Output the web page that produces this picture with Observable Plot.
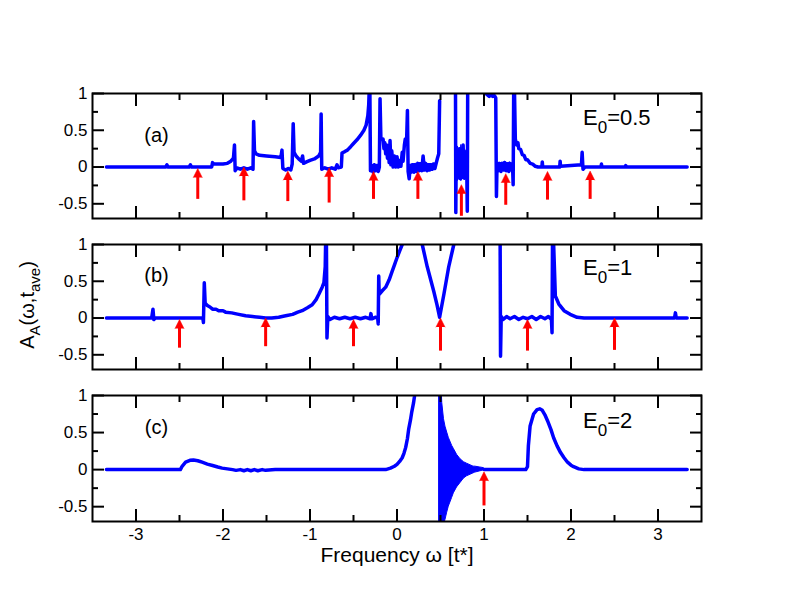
<!DOCTYPE html>
<html><head><meta charset="utf-8">
<script src="https://cdn.jsdelivr.net/npm/d3@7"></script>
<script src="https://cdn.jsdelivr.net/npm/@observablehq/plot@0.6"></script>
<style>
body{margin:0;background:#fff;}
#chart{position:relative;width:792px;height:612px;font-family:"Liberation Sans",Arial,sans-serif;color:#000;overflow:hidden;}
#chart svg{position:absolute;left:0;}
.lbl{position:absolute;line-height:1;white-space:nowrap;}
.lbl sub{line-height:0;}
</style></head><body><div id="chart"></div>
<script>
// ---------- data ----------
const xTicksMajor = [-3,-2,-1,0,1,2,3];
const xTicksMinor = [-2.5,-1.5,-0.5,0.5,1.5,2.5];
const yTicksMajor = [-0.5,0,0.5,1];
const yTicksMinor = [-0.25,0.25,0.75];
const panelLabels = ["(a)","(b)","(c)"];
const fieldValues = ["0.5","1","2"];
const xLabel = "Frequency ω [t*]";

// panel (a), E0 = 0.5 : [omega, A]
const curveA = [[-3.34,0],[-2.66,0],[-2.645,0.03],[-2.63,0],[-2.39,0],[-2.375,0.03],[-2.36,0],[-2.13,0],[-2.12,0.06],[-2.105,0.04],[-2.0,0.04],[-1.95,0.05],[-1.91,0.08],[-1.88,0.12],[-1.868,0.30],[-1.86,-0.05],[-1.84,-0.01],[-1.80,-0.03],[-1.76,-0.01],[-1.72,-0.03],[-1.68,-0.01],[-1.655,-0.03],[-1.648,0.62],[-1.638,0.22],[-1.62,0.18],[-1.58,0.16],[-1.50,0.15],[-1.40,0.14],[-1.335,0.13],[-1.322,0.23],[-1.312,-0.02],[-1.28,-0.04],[-1.25,-0.02],[-1.22,-0.04],[-1.205,0.04],[-1.193,0.59],[-1.183,0.20],[-1.16,0.15],[-1.13,0.11],[-1.10,0.08],[-1.085,0.15],[-1.075,0.05],[-1.04,0.07],[-1.0,0.09],[-0.95,0.11],[-0.90,0.15],[-0.878,0.20],[-0.872,0.72],[-0.865,-0.03],[-0.83,-0.01],[-0.79,-0.03],[-0.75,-0.01],[-0.71,-0.03],[-0.69,0.03],[-0.675,-0.01],[-0.64,0.0],[-0.632,0.19],[-0.60,0.21],[-0.57,0.23],[-0.53,0.28],[-0.50,0.32],[-0.46,0.37],[-0.42,0.43],[-0.38,0.50],[-0.355,0.57],[-0.335,0.70],[-0.325,0.85],[-0.318,1.1],[-0.312,1.1],[-0.305,-0.05],[-0.29,0.02],[-0.275,-0.07],[-0.26,0.03],[-0.245,-0.05],[-0.23,0.02],[-0.215,-0.06],[-0.203,0.0],[-0.195,0.93],[-0.185,0.38],[-0.16,0.38],[-0.15,0.25],[-0.14,0.33],[-0.13,0.18],[-0.12,0.30],[-0.11,0.12],[-0.10,0.26],[-0.09,0.06],[-0.08,0.36],[-0.07,0.03],[-0.06,0.22],[-0.045,0.0],[-0.03,0.15],[-0.015,0.0],[0.0,0.14],[0.015,0.0],[0.03,0.09],[0.045,0.01],[0.06,0.2],[0.07,0.08],[0.085,0.3],[0.095,0.38],[0.11,0.34],[0.12,0.77],[0.128,-0.06],[0.14,-0.16],[0.15,-0.02],[0.165,-0.07],[0.18,0.03],[0.195,-0.07],[0.21,0.02],[0.225,-0.06],[0.24,0.05],[0.255,-0.05],[0.27,0.04],[0.285,-0.05],[0.30,0.15],[0.315,-0.04],[0.33,0.05],[0.345,-0.05],[0.36,0.03],[0.375,-0.04],[0.39,0.03],[0.405,-0.03],[0.42,0.04],[0.435,-0.02],[0.45,0.05],[0.465,0.12],[0.48,0.18],[0.49,0.9],[0.55,NaN],[0.672,1.2],[0.676,-0.62],[0.68,0.1],[0.69,-0.15],[0.70,0.2],[0.71,-0.12],[0.72,0.25],[0.73,-0.16],[0.74,0.18],[0.75,-0.1],[0.76,0.3],[0.77,-0.15],[0.78,0.2],[0.79,-0.12],[0.80,0.15],[0.808,-0.6],[0.813,1.2],[0.9,NaN],[1.02,1.0],[1.04,0.98],[1.06,0.96],[1.08,0.98],[1.10,0.96],[1.12,0.97],[1.135,0.94],[1.143,-0.40],[1.15,0.05],[1.165,-0.05],[1.18,0.04],[1.195,-0.06],[1.21,0.05],[1.225,-0.04],[1.24,0.06],[1.255,-0.05],[1.27,0.04],[1.285,-0.06],[1.30,0.05],[1.315,-0.04],[1.328,0.03],[1.335,-0.24],[1.342,1.2],[1.348,1.2],[1.36,0.38],[1.375,0.30],[1.39,0.33],[1.40,0.25],[1.42,0.24],[1.44,0.17],[1.46,0.16],[1.48,0.10],[1.50,0.10],[1.53,0.05],[1.56,0.04],[1.59,0.01],[1.62,0.0],[1.665,0.0],[1.67,0.07],[1.675,0.0],[1.87,0.0],[1.875,0.08],[1.88,0.01],[2.12,0.03],[2.128,0.2],[2.138,-0.03],[2.16,0.0],[2.345,0.0],[2.35,0.04],[2.355,0.0],[2.625,0.0],[2.63,0.02],[2.635,0.0],[3.335,0.0]];
// dense oscillation bands in (a): [omega, low, high]
const bandA = [[0.68,-0.18,0.24],[0.69,-0.15,0.20],[0.70,-0.19,0.28],[0.71,-0.14,0.22],[0.72,-0.18,0.26],[0.73,-0.16,0.20],[0.74,-0.19,0.30],[0.75,-0.14,0.22],[0.76,-0.17,0.25],[0.77,-0.15,0.21],[0.78,-0.18,0.24],[0.79,-0.14,0.20],[0.80,-0.17,0.23],[0.806,-0.15,0.2],[0.9,NaN,NaN],[1.15,-0.05,0.05],[1.18,-0.06,0.06],[1.21,-0.04,0.05],[1.24,-0.06,0.07],[1.27,-0.05,0.05],[1.30,-0.06,0.06],[1.33,-0.05,0.04],[1.34,NaN,NaN],[0.15,-0.06,0.03],[0.20,-0.07,0.04],[0.25,-0.06,0.05],[0.30,-0.06,0.06],[0.35,-0.05,0.04],[0.40,-0.04,0.04],[0.45,-0.03,0.05]];
const arrowAX = [-2.29,-1.76,-1.255,-0.78,-0.27,0.24,0.74,1.25,1.73,2.22];
const arrowATip = [-0.02,0,-0.055,-0.01,-0.06,-0.06,-0.24,-0.09,-0.06,-0.055];
const arrowATail = [-0.44,-0.46,-0.47,-0.49,-0.44,-0.44,-0.67,-0.52,-0.45,-0.44];

// panel (b), E0 = 1
const curveB = [[-3.34,0],[-2.82,0],[-2.805,0.12],[-2.795,-0.02],[-2.78,0],[-2.232,0],[-2.225,-0.06],[-2.215,0.48],[-2.205,0.2],[-2.18,0.17],[-2.15,0.15],[-2.12,0.12],[-2.08,0.12],[-2.05,0.1],[-2.0,0.1],[-1.97,0.08],[-1.90,0.07],[-1.82,0.05],[-1.74,0.03],[-1.66,0.02],[-1.58,0.01],[-1.51,0.0],[-1.44,0.0],[-1.36,0.01],[-1.28,0.03],[-1.20,0.05],[-1.14,0.08],[-1.09,0.1],[-1.03,0.14],[-0.975,0.18],[-0.93,0.25],[-0.90,0.32],[-0.86,0.42],[-0.84,0.48],[-0.825,0.7],[-0.818,1.2],[-0.812,1.2],[-0.805,-0.27],[-0.795,0.02],[-0.77,-0.02],[-0.72,0.01],[-0.66,-0.01],[-0.60,0.01],[-0.54,-0.01],[-0.48,0.01],[-0.42,-0.01],[-0.36,0.01],[-0.31,-0.01],[-0.30,0.06],[-0.29,-0.01],[-0.25,0.01],[-0.222,0.0],[-0.216,-0.08],[-0.21,0.57],[-0.205,0.32],[-0.17,0.37],[-0.13,0.42],[-0.09,0.52],[-0.06,0.62],[-0.03,0.72],[0.0,0.82],[0.03,0.91],[0.06,1.0],[0.1,1.15],[0.2,NaN],[0.27,1.15],[0.29,1.0],[0.347,0.70],[0.423,0.36],[0.46,0.18],[0.49,0.01],[0.54,0.33],[0.595,0.70],[0.653,1.0],[0.67,1.15],[0.9,NaN],[1.185,1.2],[1.19,-0.52],[1.198,0.02],[1.22,-0.02],[1.26,0.02],[1.30,-0.01],[1.35,0.02],[1.40,-0.02],[1.45,0.01],[1.50,-0.01],[1.55,0.02],[1.60,-0.02],[1.65,0.02],[1.70,-0.01],[1.74,0.02],[1.775,-0.02],[1.782,-0.2],[1.788,1.2],[1.795,1.2],[1.82,0.30],[1.86,0.19],[1.92,0.10],[1.99,0.05],[2.07,0.01],[2.15,0],[3.19,0],[3.20,0.07],[3.21,0],[3.335,0]];
const bandB = [];
const arrowBX = [-2.5,-1.51,-0.50,0.5,1.5,2.5];
const arrowBTip = [-0.02,0,-0.02,0,-0.02,0];
const arrowBTail = [-0.41,-0.39,-0.39,-0.45,-0.45,-0.44];

// panel (c), E0 = 2
const curveC = [[-3.34,0],[-2.49,0],[-2.47,0.045],[-2.43,0.10],[-2.38,0.125],[-2.34,0.13],[-2.29,0.12],[-2.24,0.10],[-2.18,0.075],[-2.12,0.055],[-2.06,0.035],[-2.01,0.02],[-1.95,0.01],[-1.89,0.0],[-1.85,-0.01],[-1.80,0.0],[-1.76,-0.015],[-1.72,0.0],[-1.68,-0.015],[-1.64,0.0],[-1.60,-0.015],[-1.55,0.0],[-1.51,-0.01],[-1.40,0.0],[-1.0,0.0],[-0.5,0],[-0.13,0.0],[-0.075,0.02],[-0.03,0.045],[0.0,0.07],[0.03,0.11],[0.06,0.16],[0.08,0.22],[0.10,0.30],[0.12,0.42],[0.135,0.55],[0.155,0.67],[0.17,0.78],[0.19,0.9],[0.20,0.98],[0.21,1.15],[0.3,NaN],[1.0,0.0],[1.2,0],[1.48,0],[1.50,0.04],[1.51,0.32],[1.53,0.59],[1.57,0.75],[1.61,0.81],[1.64,0.82],[1.67,0.80],[1.70,0.74],[1.73,0.66],[1.77,0.54],[1.80,0.43],[1.84,0.32],[1.88,0.23],[1.92,0.16],[1.96,0.10],[2.0,0.06],[2.03,0.04],[2.09,0.01],[2.15,0],[3.335,0]];
const bandC = [[0.488,-0.9,1.5],[0.50,-0.9,1.5],[0.52,-0.85,0.9],[0.54,-0.75,0.68],[0.557,-0.68,0.58],[0.577,-0.58,0.50],[0.595,-0.50,0.43],[0.634,-0.38,0.32],[0.653,-0.32,0.28],[0.69,-0.24,0.20],[0.73,-0.18,0.14],[0.77,-0.12,0.10],[0.805,-0.09,0.08],[0.88,-0.05,0.04],[0.90,-0.04,0.04],[0.95,-0.025,0.03],[1.0,-0.01,0.02]];
const arrowCX = [1.0];
const arrowCTip = [-0.03];
const arrowCTail = [-0.49];

// ---------- drawing ----------
const BLUE = "#0000ff", RED = "#ff0000";
const chart = document.getElementById("chart");

function panel({curve, band, ax, atip, atail, label, labelDy, top, marginTop, innerH, marginBottom, last}) {
  const line = curve.map(([x, y]) => ({x, y}));
  const bandData = band.map(([x, lo, hi]) => ({x, lo, hi}));
  const arrows = ax.map((x, i) => ({x, tip: atip[i], tail: atail[i]}));
  const blank = {tickFormat: () => "", label: null, strokeWidth: 2};
  const marks = [
    Plot.areaY(bandData, {x: "x", y1: "lo", y2: "hi", fill: BLUE, stroke: BLUE, strokeWidth: 1, clip: true}),
    Plot.line(line, {x: "x", y: "y", stroke: BLUE, strokeWidth: 3.5, clip: true}),
    Plot.ruleX(arrows, {x: "x", y1: "tip", y2: "tail", stroke: RED, strokeWidth: 3, insetTop: 7}),
    Plot.vector(arrows, {x: "x", y: "tip", length: 9, r: 4.5, shape: "spike", anchor: "end", rotate: 0, fill: RED, stroke: RED, strokeWidth: 0.5}),
    Plot.axisY(yTicksMajor, {anchor: "left", tickSize: 0, tickPadding: 5, fontSize: 17, label: null, tickFormat: d => String(d)}),
    Plot.axisY(yTicksMajor, {anchor: "left", tickSize: -12, ...blank}),
    Plot.axisY(yTicksMinor, {anchor: "left", tickSize: -6, ...blank}),
    Plot.axisY(yTicksMajor, {anchor: "right", tickSize: -12, ...blank}),
    Plot.axisY(yTicksMinor, {anchor: "right", tickSize: -6, ...blank}),
    Plot.axisX(xTicksMajor, {anchor: "top", tickSize: -12, ...blank}),
    Plot.axisX(xTicksMinor, {anchor: "top", tickSize: -6, ...blank}),
    Plot.axisX(xTicksMajor, {anchor: "bottom", tickSize: -12, ...blank}),
    Plot.axisX(xTicksMinor, {anchor: "bottom", tickSize: -6, ...blank}),
    Plot.frame({strokeWidth: 2}),
    Plot.text([label], {frameAnchor: "top-left", dx: 64, dy: labelDy, fontSize: 20, textAnchor: "middle"})
  ];
  if (last) {
    marks.push(Plot.axisX(xTicksMajor, {anchor: "bottom", tickSize: 0, tickPadding: 6, fontSize: 17, label: null, tickFormat: d => String(d)}));
    marks.push(Plot.text([xLabel], {frameAnchor: "bottom", dy: 40, fontSize: 21, textAnchor: "middle"}));
  }
  const svg = Plot.plot({
    width: 792,
    height: marginTop + innerH + marginBottom,
    marginTop, marginBottom, marginLeft: 92, marginRight: 91,
    x: {domain: [-3.5, 3.5]},
    y: {domain: [-0.7, 1]},
    style: {fontFamily: '"Liberation Sans", Arial, sans-serif', fontSize: "17px", background: "transparent", overflow: "visible", color: "#000"},
    marks
  });
  svg.style.top = top + "px";
  chart.appendChild(svg);
}

const panelTops = [0, 225, 377];
panel({curve: curveA, band: bandA, ax: arrowAX, atip: arrowATip, atail: arrowATail, label: panelLabels[0], labelDy: 34, top: panelTops[0], marginTop: 93, innerH: 125, marginBottom: 7});
panel({curve: curveB, band: bandB, ax: arrowBX, atip: arrowBTip, atail: arrowBTail, label: panelLabels[1], labelDy: 23, top: panelTops[1], marginTop: 19, innerH: 125, marginBottom: 8});
panel({curve: curveC, band: bandC, ax: arrowCX, atip: arrowCTip, atail: arrowCTail, label: panelLabels[2], labelDy: 24, top: panelTops[2], marginTop: 18, innerH: 126, marginBottom: 91, last: true});

// E0 annotations (HTML for the subscript)
const eTops = [107, 257, 410];
fieldValues.forEach((v, i) => {
  const d = document.createElement("div");
  d.className = "lbl";
  d.style.left = "583px";
  d.style.top = eTops[i] + "px";
  d.style.fontSize = "22px";
  d.innerHTML = 'E<sub style="font-size:17px;vertical-align:-8px">0</sub>=' + v;
  chart.appendChild(d);
});

// y-axis title
const yl = document.createElement("div");
yl.className = "lbl";
yl.style.fontSize = "20px";
yl.style.left = "27px";
yl.style.top = "305px";
yl.style.transform = "translate(-50%,-50%) rotate(-90deg)";
yl.innerHTML = 'A<sub style="font-size:15px;vertical-align:-6px">A</sub>(ω,t<sub style="font-size:15px;vertical-align:-6px">ave</sub>)';
chart.appendChild(yl);
</script>
</body></html>
